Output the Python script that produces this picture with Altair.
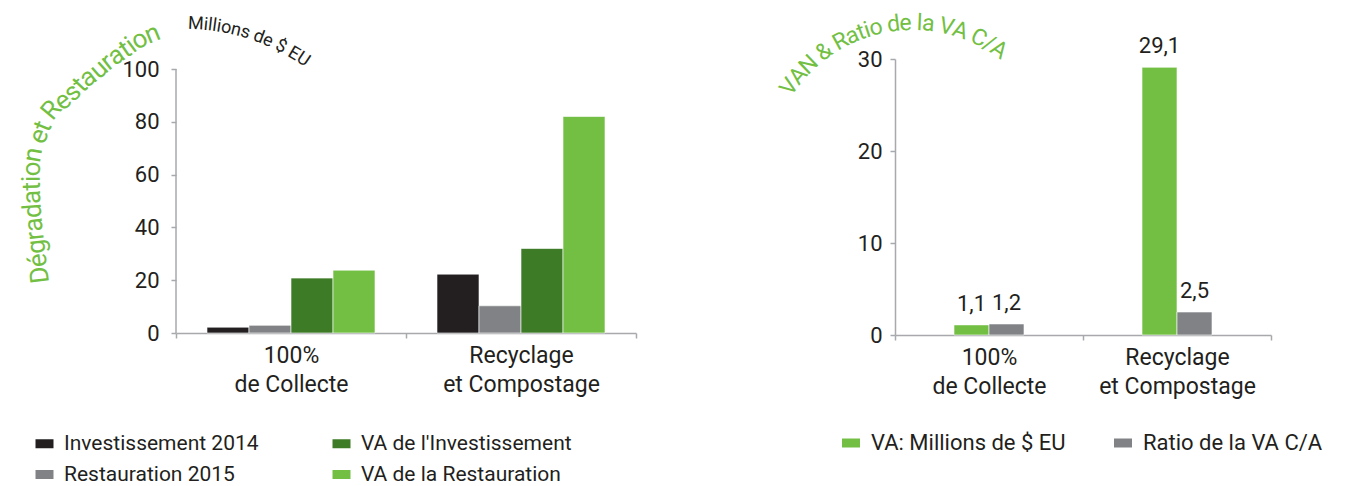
import math
import altair as alt
import pandas as pd

# ---------------- data ----------------
categories = ["100%\nde Collecte", "Recyclage\net Compostage"]

left_series = ["Investissement 2014", "Restauration 2015",
               "VA de l'Investissement", "VA de la Restauration"]
investissement_2014 = [2.2, 22.3]
restauration_2015 = [2.9, 10.3]
va_investissement = [20.8, 32.0]
va_restauration = [23.8, 82.0]
left_ticks = [0, 20, 40, 60, 80, 100]

right_series = ["VA: Millions de $ EU", "Ratio de la VA C/A"]
va_millions = [1.1, 29.1]
ratio_va = [1.2, 2.5]
right_ticks = [0, 10, 20, 30]

left_title = "Dégradation et Restauration"
left_unit = "Millions de $ EU"
right_title = "VAN & Ratio de la VA C/A"

# ---------------- style ----------------
FONT = "Roboto"
BLACK = "#231f20"
GREY = "#808285"
DKGREEN = "#3e7b27"
GREEN = "#72bf44"
AXIS = "#a7a9ac"

# approximate glyph advance widths (em) used to lay text along a curve
W = {' ': 0.25, 'D': 0.655, 'é': 0.53, 'e': 0.53, 'g': 0.56, 'r': 0.34, 'a': 0.545,
     'd': 0.563, 't': 0.33, 'i': 0.245, 'o': 0.57, 'n': 0.552, 'R': 0.63, 's': 0.516,
     'u': 0.551, 'M': 0.873, 'l': 0.245, '$': 0.562, 'E': 0.568, 'U': 0.649,
     'V': 0.636, 'A': 0.652, 'N': 0.713, '&': 0.622, 'C': 0.652, '/': 0.412}


def catmull(points, n=24):
    pts = [points[0]] + points + [points[-1]]
    out = []
    for i in range(1, len(pts) - 2):
        p0, p1, p2, p3 = pts[i - 1], pts[i], pts[i + 1], pts[i + 2]
        for k in range(n):
            t = k / n
            t2, t3 = t * t, t * t * t
            xy = []
            for j in range(2):
                xy.append(0.5 * (2 * p1[j] + (-p0[j] + p2[j]) * t
                                 + (2 * p0[j] - 5 * p1[j] + 4 * p2[j] - p3[j]) * t2
                                 + (-p0[j] + 3 * p1[j] - 3 * p2[j] + p3[j]) * t3))
            out.append(tuple(xy))
    out.append(points[-1])
    return out


def circle_path(cx, cy, r, a0, a1, n=240):
    return [(cx + r * math.cos(math.radians(a0 + (a1 - a0) * k / n)),
             cy + r * math.sin(math.radians(a0 + (a1 - a0) * k / n))) for k in range(n + 1)]


def text_on_path(text, path, size, ox, oy, track=1.0):
    cum = [0.0]
    for i in range(1, len(path)):
        cum.append(cum[-1] + math.dist(path[i - 1], path[i]))
    total = cum[-1]
    widths = [W.get(c, 0.55) * size * track for c in text]
    s = (total - sum(widths)) / 2
    rows = []
    for c, w in zip(text, widths):
        m = s + w / 2
        s += w
        i = 1
        while i < len(path) - 1 and cum[i] < m:
            i += 1
        (x0, y0), (x1, y1) = path[i - 1], path[i]
        seg = max(cum[i] - cum[i - 1], 1e-9)
        f = (m - cum[i - 1]) / seg
        x, y = x0 + (x1 - x0) * f, y0 + (y1 - y0) * f
        ang = math.degrees(math.atan2(y1 - y0, x1 - x0)) % 360
        if c != ' ':
            rows.append({"ch": c, "px": x - ox, "py": y - oy, "ang": ang})
    return pd.DataFrame(rows)


def arc_layer(df, size, color):
    return alt.Chart(df).mark_text(font=FONT, fontSize=size, color=color,
                                   align="center", baseline="middle").encode(
        x=alt.X("px:Q", scale=None, axis=None),
        y=alt.Y("py:Q", scale=None, axis=None),
        angle=alt.Angle("ang:Q", scale=None),
        text="ch:N")


# plot origins (page px) used only for the decorative curved titles
LOX, LOY = 174, 59
ROX, ROY = 893, 59

left_path = catmull([(40, 292), (36, 258), (32, 222), (30, 190), (30, 165), (32, 150),
                     (37, 136), (48, 112), (62, 100), (74, 89), (83, 80), (95, 71),
                     (105, 62), (115, 55), (124, 49), (137, 40), (155, 32), (165, 28)])
left_title_df = text_on_path(left_title, left_path, 26, LOX, LOY, 0.96)
unit_df = text_on_path(left_unit, circle_path(184, 234, 210, -92, -52), 18, LOX, LOY)
right_title_df = text_on_path(right_title, circle_path(911, 174, 151, 209, 311), 23, ROX, ROY, 0.96)

# ---------------- tables ----------------
left_values = [investissement_2014, restauration_2015, va_investissement, va_restauration]
left_df = pd.DataFrame([{"cat": c, "series": s, "value": vals[i]}
                        for s, vals in zip(left_series, left_values)
                        for i, c in enumerate(categories)])
right_values = [va_millions, ratio_va]
right_df = pd.DataFrame([{"cat": c, "series": s, "value": vals[i],
                          "label": f"{vals[i]:.1f}".replace(".", ",")}
                         for s, vals in zip(right_series, right_values)
                         for i, c in enumerate(categories)])

left_colors = [BLACK, GREY, DKGREEN, GREEN]

RECT = "M-1,-0.5L1,-0.5L1,0.5L-1,0.5Z"

# left plot spans 59..333 px; value 100 sits at 69 px
LEFT_W, LEFT_H = 460, 274
LEFT_TOP = 100 * LEFT_H / 264
RIGHT_W, RIGHT_H = 376, 276
LEFT_BAR, RIGHT_BAR = 42, 35


def x_axis():
    return alt.Axis(title=None, labelAngle=0, labelExpr="split(datum.label, '\\n')",
                    tickBand="extent", labelFont=FONT, labelFontSize=23,
                    labelLineHeight=29, labelPadding=6, labelColor=BLACK,
                    domainColor=AXIS, tickColor=AXIS, tickSize=5, domainWidth=1.5,
                    tickWidth=1.5)


def y_axis(vals, pad, domain=True):
    return alt.Axis(title=None, values=vals, grid=False, labelFont=FONT,
                    labelFontSize=22, labelPadding=pad, labelColor=BLACK,
                    domain=domain, domainColor=AXIS, tickColor=AXIS, tickSize=5,
                    domainWidth=1.5, tickWidth=1.5)


def legend(x, y, cols, colpad, size):
    return alt.Legend(title=None, orient="none", legendX=x, legendY=y, columns=cols,
                      columnPadding=colpad, rowPadding=9, symbolType=RECT,
                      symbolSize=324, symbolStrokeWidth=0, labelFont=FONT,
                      labelFontSize=size, labelColor=BLACK, labelOffset=9,
                      labelLimit=400)


def offset_range(width, nbars, barw):
    step = width / len(categories)
    return [step / 2 - nbars * barw / 2, step / 2 + nbars * barw / 2]


lx = alt.X("cat:N", sort=categories, axis=x_axis(),
           scale=alt.Scale(paddingInner=0, paddingOuter=0))
ly = alt.Y("value:Q", axis=y_axis(left_ticks, 12, domain=False),
           scale=alt.Scale(domain=[0, LEFT_TOP], nice=False))

left_bars = alt.Chart(left_df).mark_bar(stroke="white", strokeWidth=0.6).encode(
    x=lx,
    xOffset=alt.XOffset("series:N", scale=alt.Scale(
        domain=left_series, range=offset_range(LEFT_W, len(left_series), LEFT_BAR))),
    y=ly,
    color=alt.Color("series:N", scale=alt.Scale(domain=left_series, range=left_colors),
                    legend=legend(32 - LOX, 433 - LOY, 2, 72, 21)),
)

left_axis_line = alt.Chart(pd.DataFrame({"lo": [left_ticks[0]], "hi": [left_ticks[-1]]})).mark_rule(
    color=AXIS, strokeWidth=1.5).encode(
    x=alt.value(0), y=alt.Y("lo:Q", scale=alt.Scale(domain=[0, LEFT_TOP], nice=False),
                            axis=y_axis(left_ticks, 12, domain=False)), y2="hi:Q")

left = alt.layer(left_bars, left_axis_line, arc_layer(left_title_df, 26, GREEN),
                 arc_layer(unit_df, 18, BLACK)).properties(width=LEFT_W, height=LEFT_H)

rx = alt.X("cat:N", sort=categories, axis=x_axis(),
           scale=alt.Scale(paddingInner=0, paddingOuter=0))
rxo = alt.XOffset("series:N", scale=alt.Scale(
    domain=right_series, range=offset_range(RIGHT_W, len(right_series), RIGHT_BAR)))
ry = alt.Y("value:Q", axis=y_axis(right_ticks, 8), scale=alt.Scale(domain=[0, 30], nice=False))

right_bars = alt.Chart(right_df).mark_bar(stroke="white", strokeWidth=0.6).encode(
    x=rx, xOffset=rxo, y=ry,
    color=alt.Color("series:N", scale=alt.Scale(domain=right_series, range=[GREEN, GREY]),
                    legend=legend(838 - ROX, 432 - ROY, 2, 46, 22)),
)
right_labels = alt.Chart(right_df).mark_text(font=FONT, fontSize=22, color=BLACK,
                                             baseline="bottom", dy=-9).encode(
    x=rx, xOffset=rxo, y=ry, text="label:N")

right = alt.layer(right_bars, right_labels,
                  arc_layer(right_title_df, 23, GREEN)).properties(width=RIGHT_W, height=RIGHT_H)

chart = alt.hconcat(left, right, spacing=139).resolve_scale(
    color="independent", xOffset="independent"
).properties(
    padding={"left": 10, "top": 3, "right": 5, "bottom": 5}
).configure_view(stroke=None)

chart.save("out.html", embed_options={"renderer": "svg", "actions": False})
